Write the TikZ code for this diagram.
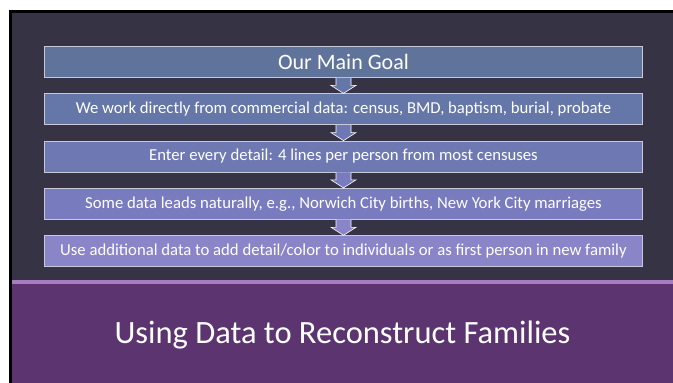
\documentclass[tikz,border=0pt]{standalone}
\usepackage{fontspec}
\setmainfont{Carlito}
\usepackage{tikz}

\definecolor{slidebg}{RGB}{54,51,69}
\definecolor{bandlight}{RGB}{168,124,190}
\definecolor{banddark}{RGB}{91,52,112}
\definecolor{boxline}{RGB}{200,200,214}
\definecolor{stepA}{RGB}{96,115,155}
\definecolor{stepB}{RGB}{101,118,168}
\definecolor{stepC}{RGB}{110,121,180}
\definecolor{stepD}{RGB}{121,123,191}
\definecolor{stepE}{RGB}{138,132,200}

\begin{document}
\begin{tikzpicture}[x=1pt, y=-1pt,
    stepbox/.style={draw=boxline, line width=0.8pt, minimum width=598pt,
        minimum height=31pt, inner sep=0pt, text=white,
        font=\fontsize{16.7}{18}\selectfont},
    flowarrow/.style={draw=white, line width=0.6pt, line join=miter}]
    % Slide
    \useasboundingbox (0,0) rectangle (673,383);
    \fill[white] (0,0) rectangle (673,383);
    \fill[black] (9,10) rectangle (673,383);
    \fill[slidebg] (12,13) rectangle (673,280);
    \fill[bandlight] (12,280) rectangle (673,284);
    \fill[banddark] (12,284) rectangle (673,383);

    % Steps
    \node[stepbox, fill=stepA, font=\fontsize{22}{24}\selectfont] (goal) at (343.5,62) {Our Main Goal};
    \node[stepbox, fill=stepB] (work) at (343.5,109.3) {We work directly from commercial data: census, BMD, baptism, burial, probate};
    \node[stepbox, fill=stepC] (enter) at (343.5,156.5) {Enter every detail: 4 lines per person from most censuses};
    \node[stepbox, fill=stepD] (leads) at (343.5,203.8) {Some data leads naturally, e.g., Norwich City births, New York City marriages};
    \node[stepbox, fill=stepE] (extra) at (343.5,251.2) {Use additional data to add detail/color to individuals or as first person in new family};

    % Arrows
    \draw[flowarrow, fill=stepB] ([xshift=-7.5]goal.south) -- ([xshift=-7.5,yshift=8]work.north) -- ([xshift=-12.5,yshift=8]work.north) -- (work.north) -- ([xshift=12.5,yshift=8]work.north) -- ([xshift=7.5,yshift=8]work.north) -- ([xshift=7.5]goal.south);
    \draw[flowarrow, fill=stepC] ([xshift=-7.5]work.south) -- ([xshift=-7.5,yshift=8]enter.north) -- ([xshift=-12.5,yshift=8]enter.north) -- (enter.north) -- ([xshift=12.5,yshift=8]enter.north) -- ([xshift=7.5,yshift=8]enter.north) -- ([xshift=7.5]work.south);
    \draw[flowarrow, fill=stepD] ([xshift=-7.5]enter.south) -- ([xshift=-7.5,yshift=8]leads.north) -- ([xshift=-12.5,yshift=8]leads.north) -- (leads.north) -- ([xshift=12.5,yshift=8]leads.north) -- ([xshift=7.5,yshift=8]leads.north) -- ([xshift=7.5]enter.south);
    \draw[flowarrow, fill=stepE] ([xshift=-7.5]leads.south) -- ([xshift=-7.5,yshift=8]extra.north) -- ([xshift=-12.5,yshift=8]extra.north) -- (extra.north) -- ([xshift=12.5,yshift=8]extra.north) -- ([xshift=7.5,yshift=8]extra.north) -- ([xshift=7.5]leads.south);

    % Title
    \node[anchor=base, text=white, font=\fontsize{32.5}{36}\selectfont] (title) at (342.5,343.7) {Using Data to Reconstruct Families};
\end{tikzpicture}
\end{document}
